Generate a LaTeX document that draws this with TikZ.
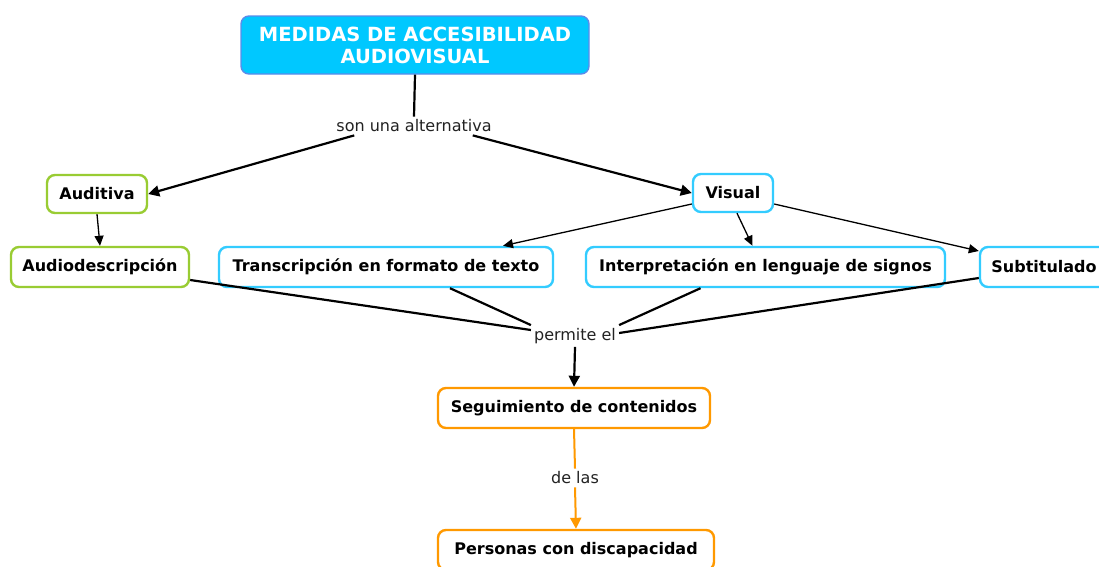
\documentclass[tikz,border=0pt]{standalone}
\usepackage{fontspec}
\setmainfont{DejaVu Sans}
\usetikzlibrary{arrows.meta}
\definecolor{titlefill}{HTML}{00C8FF}
\definecolor{titledraw}{HTML}{5A8CEB}
\definecolor{greenb}{HTML}{99CC33}
\definecolor{cyanb}{HTML}{33CCFF}
\definecolor{orangeb}{HTML}{FF9900}
\definecolor{lbltext}{HTML}{222222}
\tikzset{
  concept/.style={draw, line width=2.4pt, rounded corners=8pt, fill=white, font=\bfseries\fontsize{16}{19}\selectfont, inner sep=0pt, minimum height=38pt, text=black},
  green/.style={concept, draw=greenb},
  blue/.style={concept, draw=cyanb},
  orng/.style={concept, draw=orangeb},
  lbl/.style={font=\fontsize{16}{19}\selectfont, text=lbltext, inner sep=3pt},
  thick link/.style={line width=2.2pt, draw=black},
  thin link/.style={line width=1.3pt, draw=black},
  tip/.style={-{Triangle[length=11pt,width=11pt]}},
  smalltip/.style={-{Triangle[length=10pt,width=9pt]}},
}
\begin{document}
\begin{tikzpicture}[x=1pt,y=-1pt]
\clip (0,0) rectangle (1099,566);
\fill[white] (0,0) rectangle (1099,566);
\node[draw=titledraw, fill=titlefill, line width=1.4pt, rounded corners=8pt, minimum width=348pt, minimum height=58pt, text=white, align=center, font=\bfseries\fontsize{19.5}{22}\selectfont] (title) at (415,45) {MEDIDAS DE ACCESIBILIDAD\\AUDIOVISUAL};
\node[lbl] (alt) at (414,126) {son una alternativa};
\node[green, minimum width=100pt] (aud) at (97,194) {Auditiva};
\node[blue, minimum width=80pt] (vis) at (733,193) {Visual};
\node[green, minimum width=178pt, minimum height=40pt] (ades) at (100,267) {Audiodescripción};
\node[blue, minimum width=334pt, minimum height=40pt] (trans) at (386,267) {Transcripción en formato de texto};
\node[blue, minimum width=359pt, minimum height=40pt] (interp) at (765.5,267) {Interpretación en lenguaje de signos};
\node[blue, minimum width=128pt, minimum height=40pt] (sub) at (1044,267) {Subtitulado};
\node[lbl] (perm) at (575,336) {permite el};
\node[orng, minimum width=272pt, minimum height=40pt] (seg) at (574,408) {Seguimiento de contenidos};
\node[lbl] (delas) at (575,478) {de las};
\node[orng, minimum width=276pt, minimum height=40pt] (pers) at (576,550) {Personas con discapacidad};

\draw[thick link] (title.south) -- (alt.north);
\draw[thick link, tip] ([xshift=21pt]alt.south west) -- (aud.east);
\draw[thick link, tip] ([xshift=-22pt]alt.south east) -- (vis.west);
\draw[thin link, smalltip] (aud.south) -- (ades.north);
\draw[thin link, smalltip] ([yshift=-11pt]vis.west) -- ([xshift=117pt]trans.north);
\draw[thin link, smalltip] ([xshift=4pt]vis.south) -- ([xshift=-13pt]interp.north);
\draw[thin link, smalltip] ([yshift=-11pt]vis.east) -- ([yshift=16pt]sub.west);
\draw[thick link] ([yshift=-13pt]ades.east) -- ([yshift=6pt]perm.west);
\draw[thick link] ([xshift=64pt]trans.south) -- (perm.north west);
\draw[thick link] ([xshift=-65pt]interp.south) -- (perm.north east);
\draw[thick link] ([yshift=-11pt]sub.west) -- ([yshift=3pt]perm.east);
\draw[thick link, tip] (perm.south) -- (seg.north);
\draw[line width=2pt, draw=orangeb] (seg.south) -- (delas.north);
\draw[line width=2pt, draw=orangeb, -{Triangle[length=11pt,width=11pt]}] (delas.south) -- (pers.north);
\end{tikzpicture}
\end{document}
